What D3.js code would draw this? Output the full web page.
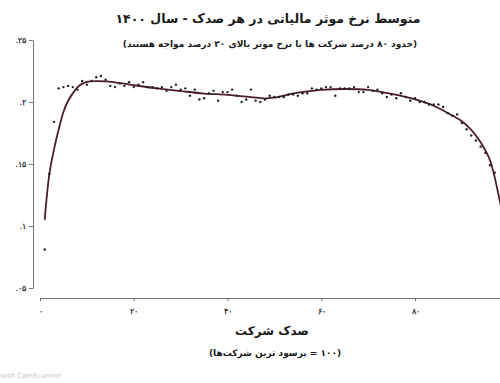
<!DOCTYPE html>
<html>
<head>
<meta charset="utf-8">
<script src="https://cdn.jsdelivr.net/npm/d3@7"></script>
<style>
  body { margin: 0; background: #fff; }
  svg { display: block; font-family: "DejaVu Sans", sans-serif; }
</style>
</head>
<body>
<div id="chart"></div>
<script>
// Average effective tax rate per percentile (dots), percentiles 1..97
const dotRates = [
  0.081, 0.142, 0.184, 0.211, 0.212, 0.213, 0.212, 0.210, 0.217, 0.214,
  0.217, 0.220, 0.221, 0.218, 0.213, 0.212, 0.215, 0.213, 0.216, 0.212,
  0.214, 0.216, 0.212, 0.212, 0.211, 0.212, 0.209, 0.212, 0.214, 0.210,
  0.211, 0.205, 0.210, 0.202, 0.203, 0.207, 0.209, 0.201, 0.208, 0.208,
  0.210, 0.205, 0.200, 0.202, 0.210, 0.201, 0.200, 0.202, 0.205, 0.204,
  0.204, 0.204, 0.206, 0.206, 0.205, 0.207, 0.207, 0.211, 0.210, 0.211,
  0.212, 0.212, 0.205, 0.211, 0.211, 0.211, 0.212, 0.208, 0.208, 0.212,
  0.209, 0.210, 0.207, 0.204, 0.206, 0.203, 0.207, 0.204, 0.201, 0.203,
  0.200, 0.200, 0.198, 0.198, 0.198, 0.196, 0.191, 0.189, 0.190, 0.183,
  0.178, 0.173, 0.169, 0.164, 0.159, 0.149, 0.143
];

// Smoothed fit line
const fitPercentiles = [1, 2, 3, 4, 5, 6, 7, 8, 9, 10, 12, 14, 16, 18, 20, 25, 30, 35, 40, 45, 48, 50, 55, 60, 65, 70, 75, 80, 84, 88, 90, 92, 94, 96, 98, 100];
const fitRates = [0.105, 0.142, 0.162, 0.178, 0.192, 0.201, 0.207, 0.212, 0.2148, 0.2162, 0.2168, 0.2166, 0.2158, 0.2148, 0.2135, 0.211, 0.2088, 0.2068, 0.2058, 0.204, 0.2028, 0.2036, 0.2075, 0.2098, 0.2105, 0.2098, 0.2065, 0.2022, 0.197, 0.189, 0.1845, 0.1775, 0.1675, 0.153, 0.122, 0.085];

const xTicks = [0, 20, 40, 60, 80];
const yTicks = [0.05, 0.1, 0.15, 0.2, 0.25];

const titleText = 'متوسط نرخ موثر مالیاتی در هر صدک - سال ۱۴۰۰';
const subtitleText = '(حدود ۸۰ درصد شرکت ها با نرخ موثر بالای ۲۰ درصد مواجه هستند)';
const xTitleText = 'صدک شرکت';
const xSubtitleText = '(۱۰۰ = پرسود ترین شرکت‌ها)';

const width = 500, height = 383;
const faDigits = '۰۱۲۳۴۵۶۷۸۹';
const toFa = s => String(s).replace(/\d/g, d => faDigits[+d]);

const svg = d3.select('#chart').append('svg')
  .attr('width', width)
  .attr('height', height);

const x = d3.scaleLinear().domain([0, 100]).range([40, 508.75]);
const y = d3.scaleLinear().domain([0.05, 0.25]).range([288, 40]);

// Y axis (detached, at left)
const yAxis = svg.append('g')
  .attr('transform', 'translate(33,0)')
  .call(d3.axisLeft(y).tickValues(yTicks).tickSize(4).tickSizeOuter(0)
    .tickFormat(d => toFa(d3.format('.2~f')(d).replace(/^0/, ''))));

// X axis
const xAxis = svg.append('g')
  .attr('transform', 'translate(0,298)')
  .call(d3.axisBottom(x).tickValues(xTicks).tickSize(3).tickSizeOuter(0)
    .tickFormat(d => toFa(d)));

[yAxis, xAxis].forEach(a => {
  a.select('.domain').attr('stroke', '#555').attr('stroke-width', 0.8);
  a.selectAll('.tick line').attr('stroke', '#555').attr('stroke-width', 0.8);
  a.selectAll('.tick text')
    .attr('fill', '#333')
    .style('font-size', '8px')
    .style('font-weight', 'bold')
    .attr('direction', 'ltr');
});
xAxis.selectAll('.tick text').attr('y', 10);

// Fit line
const line = d3.line()
  .x((d, i) => x(fitPercentiles[i]))
  .y(d => y(d))
  .curve(d3.curveCatmullRom);

svg.append('path')
  .datum(fitRates)
  .attr('fill', 'none')
  .attr('stroke', '#4a1f2a')
  .attr('stroke-width', 1.8)
  .attr('d', line);

// Dots
svg.append('g')
  .selectAll('circle')
  .data(dotRates)
  .join('circle')
  .attr('cx', (d, i) => x(i + 1))
  .attr('cy', d => y(d))
  .attr('r', 1.2)
  .attr('fill', '#222');

// Titles
svg.append('text')
  .attr('x', 268).attr('y', 23)
  .attr('text-anchor', 'middle')
  .attr('direction', 'rtl')
  .style('font-size', '12.5px')
  .style('font-weight', 'bold')
  .attr('fill', '#1a1a1a')
  .text(titleText);

svg.append('text')
  .attr('x', 270).attr('y', 47)
  .attr('text-anchor', 'middle')
  .attr('direction', 'rtl')
  .style('font-size', '9px')
  .style('font-weight', 'bold')
  .attr('fill', '#1a1a1a')
  .text(subtitleText);

svg.append('text')
  .attr('x', 272).attr('y', 335)
  .attr('text-anchor', 'middle')
  .attr('direction', 'rtl')
  .style('font-size', '12px')
  .style('font-weight', 'bold')
  .attr('fill', '#1a1a1a')
  .text(xTitleText);

svg.append('text')
  .attr('x', 275).attr('y', 356)
  .attr('text-anchor', 'middle')
  .attr('direction', 'rtl')
  .style('font-size', '9px')
  .style('font-weight', 'bold')
  .attr('fill', '#1a1a1a')
  .text(xSubtitleText);

// Scanner watermark
svg.append('text')
  .attr('x', 0).attr('y', 378)
  .style('font-size', '7px')
  .attr('fill', '#c8c8c8')
  .text('with CamScanner');
</script>
</body>
</html>
